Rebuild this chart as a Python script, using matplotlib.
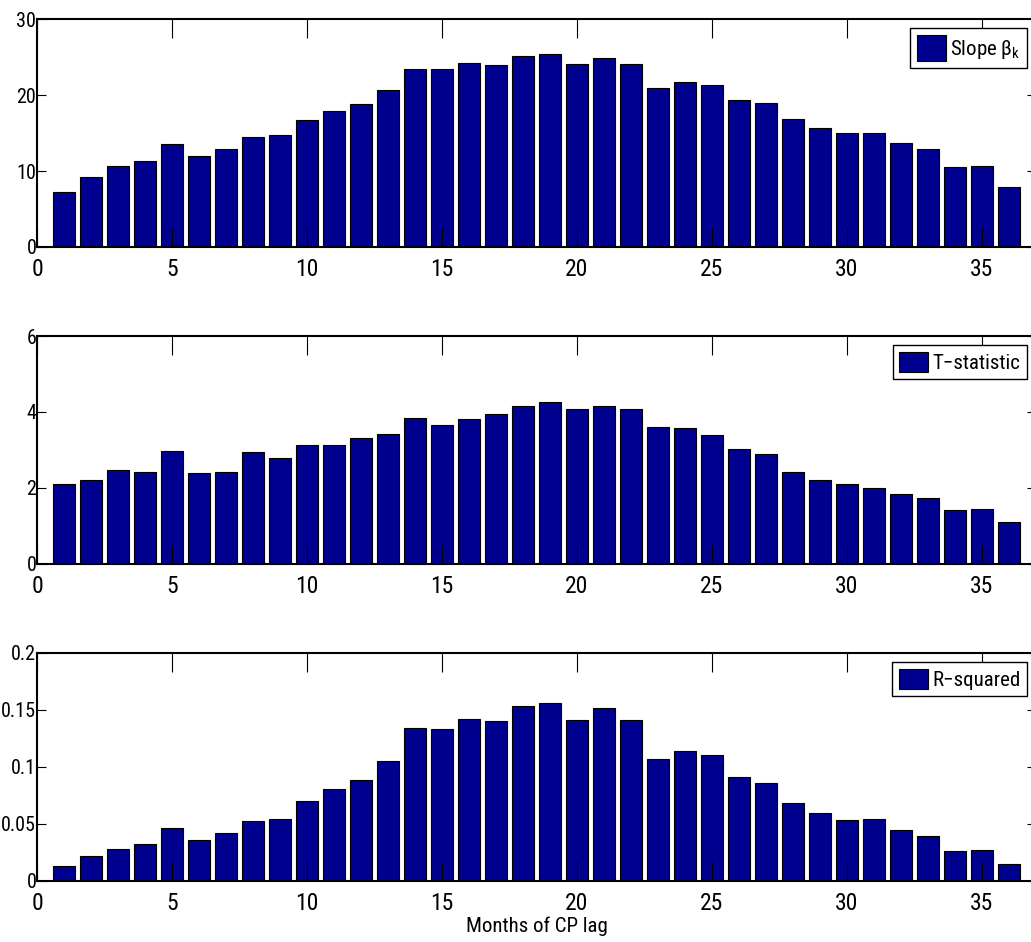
import numpy as np
import matplotlib
matplotlib.use('Agg')
import matplotlib.pyplot as plt
from matplotlib.ticker import FuncFormatter

fams = ['Roboto Condensed', 'Barlow Condensed', 'DejaVu Sans']
plt.rcParams['font.family'] = fams
plt.rcParams['mathtext.fontset'] = 'custom'
plt.rcParams['mathtext.rm'] = 'Roboto Condensed'
plt.rcParams['mathtext.fallback'] = 'stixsans'

# lag in months
lag = np.arange(1, 37)

slope = [7.24, 9.25, 10.61, 11.36, 13.6, 11.93, 12.89, 14.52, 14.74, 16.67,
         17.89, 18.82, 20.61, 23.42, 23.38, 24.21, 23.99, 25.13, 25.35, 24.04,
         24.87, 24.04, 20.96, 21.67, 21.32, 19.39, 18.9, 16.89, 15.7, 14.96,
         15.0, 13.73, 12.85, 10.48, 10.66, 7.94]

tstat = [2.11, 2.20, 2.48, 2.41, 2.97, 2.39, 2.41, 2.96, 2.78, 3.14,
         3.12, 3.31, 3.41, 3.84, 3.66, 3.81, 3.94, 4.15, 4.27, 4.08,
         4.15, 4.08, 3.61, 3.57, 3.39, 3.02, 2.89, 2.41, 2.22, 2.10,
         2.00, 1.83, 1.73, 1.43, 1.46, 1.10]

rsq = [0.0134, 0.0216, 0.028, 0.0321, 0.0461, 0.0356, 0.0418, 0.0526, 0.0546, 0.0701,
       0.0803, 0.0888, 0.1054, 0.1343, 0.1334, 0.1425, 0.1404, 0.1539, 0.1565, 0.141,
       0.1515, 0.1416, 0.1074, 0.1142, 0.1104, 0.0908, 0.0861, 0.0683, 0.0593, 0.0534,
       0.054, 0.0447, 0.0391, 0.026, 0.0269, 0.0149]

series = [slope, tstat, rsq]
labels = [r'Slope $\mathrm{\beta}_\mathrm{k}$', 'T\u2212statistic', 'R\u2212squared']
yticks = [[0, 10, 20, 30], [0, 2, 4, 6], [0, 0.05, 0.1, 0.15, 0.2]]
handle_h = [1.6, 1.1, 1.1]
barcol = (0, 0, 0.5625)

fig = plt.figure(figsize=(10.31, 9.42), dpi=100)
# axes boxes in figure fraction (left, bottom, width, height)
boxes = [(0.0359, 0.7378, 0.9689, 0.2420),
         (0.0359, 0.4013, 0.9689, 0.2420),
         (0.0359, 0.0648, 0.9689, 0.2420)]

for i in range(3):
    ax = fig.add_axes(boxes[i])
    ax.bar(lag, series[i], width=0.8, color=barcol, edgecolor='black',
           linewidth=0.8, label=labels[i])
    ax.set_xlim(0, 37)
    ax.set_ylim(yticks[i][0], yticks[i][-1])
    ax.set_xticks(range(0, 36, 5))
    ax.set_yticks(yticks[i])
    ax.yaxis.set_major_formatter(FuncFormatter(lambda v, p: '%g' % v))
    ax.tick_params(axis='x', direction='in', length=14, width=0.8,
                   top=True, labelsize=17, pad=8)
    ax.tick_params(axis='y', direction='in', length=6.5, width=0.8,
                   right=True, labelsize=14.5, pad=0.5)
    for sp in ax.spines.values():
        sp.set_linewidth(1.5)
    leg = ax.legend(loc='upper right', fontsize=15, fancybox=False,
                    framealpha=1, edgecolor='black', borderaxespad=0.45,
                    handlelength=1.4, handleheight=handle_h[i], handletextpad=0.2,
                    borderpad=0.3, bbox_to_anchor=(1.0, 1.0))
    leg.get_frame().set_linewidth(1.0)
    if i == 2:
        ax.set_xlabel('Months of CP lag', fontsize=15, labelpad=1)

fig.savefig('out.png', dpi=100)
